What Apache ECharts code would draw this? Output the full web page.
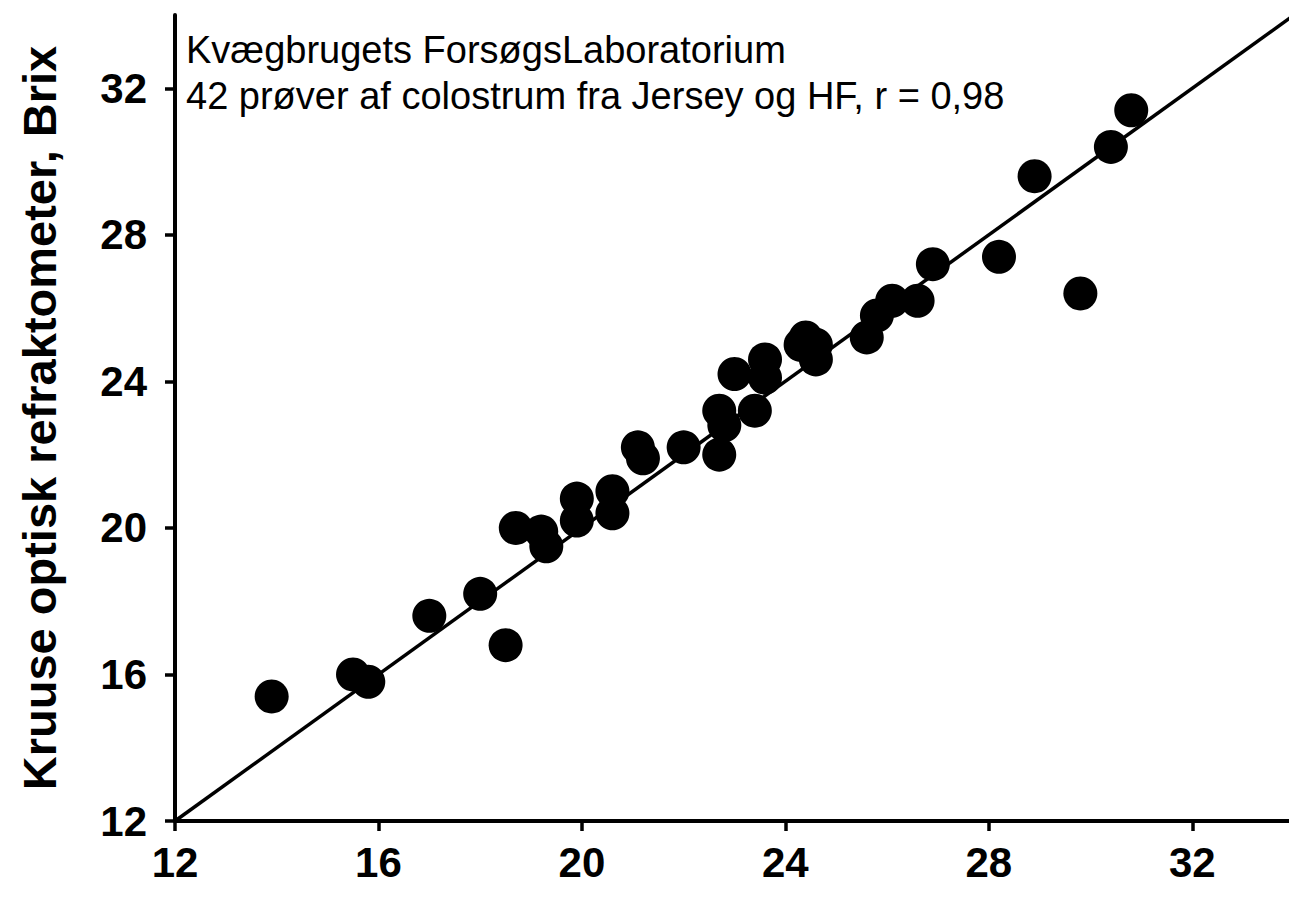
<!DOCTYPE html>
<html>
<head>
<meta charset="utf-8">
<script src="https://cdn.jsdelivr.net/npm/echarts@6/dist/echarts.min.js"></script>
<style>
  html, body { margin: 0; padding: 0; background: #fff; }
  #chart { width: 1289px; height: 901px; }
</style>
</head>
<body>
<div id="chart"></div>
<script>
// reference method (x) vs Kruuse refractometer Brix (y)
const refX = [13.9, 15.5, 15.8, 17.0, 18.0, 18.5, 18.7, 19.2, 19.3, 19.9, 19.9, 20.6, 20.6, 21.1, 21.2, 22.0, 22.7, 22.8, 22.7, 23.4, 23.0, 23.6, 23.6, 24.3, 24.4, 24.6, 24.6, 25.6, 25.8, 26.1, 26.6, 26.9, 28.2, 29.8, 28.9, 30.4, 30.8];
const brixY = [15.4, 16.0, 15.8, 17.6, 18.2, 16.8, 20.0, 19.9, 19.5, 20.8, 20.2, 21.0, 20.4, 22.2, 21.9, 22.2, 23.2, 22.8, 22.0, 23.2, 24.2, 24.6, 24.1, 25.0, 25.2, 25.0, 24.6, 25.2, 25.8, 26.2, 26.2, 27.2, 27.4, 26.4, 29.6, 30.4, 31.4];
const lineX = [12, 34];
const lineY = [12, 34];
const tickValues = [12, 16, 20, 24, 28, 32];
const yName = "Kruuse optisk refraktometer, Brix";
const noteLines = ["Kvægbrugets ForsøgsLaboratorium", "42 prøver af colostrum fra Jersey og HF, r = 0,98"];

const font = "'Liberation Sans', Arial, sans-serif";

const axisCommon = {
  type: "value",
  min: 12,
  max: 34,
  interval: 4,
  splitLine: { show: false },
  axisLine: { show: true, onZero: false, lineStyle: { color: "#000", width: 4 } },
  axisTick: { show: true, length: 10, customValues: tickValues, lineStyle: { color: "#000", width: 3.5 } },
  axisLabel: { customValues: tickValues, color: "#000", fontFamily: font, fontWeight: "bold", fontSize: 42 }
};

const chart = echarts.init(document.getElementById("chart"), null, { renderer: "svg" });
chart.setOption({
  animation: false,
  backgroundColor: "#fff",
  grid: { left: 175, right: -5, top: 15, bottom: 80, containLabel: false, outerBoundsMode: "none" },
  xAxis: Object.assign({}, axisCommon, {
    axisLabel: Object.assign({}, axisCommon.axisLabel, { margin: 20 })
  }),
  yAxis: Object.assign({}, axisCommon, {
    name: yName,
    nameLocation: "middle",
    nameGap: 112,
    nameTextStyle: { color: "#000", fontFamily: font, fontWeight: "bold", fontSize: 47 },
    axisLabel: Object.assign({}, axisCommon.axisLabel, { margin: 28 })
  }),
  graphic: [
    {
      type: "text",
      left: 186,
      top: 27,
      style: {
        text: noteLines.join("\n"),
        font: "38px " + font,
        lineHeight: 46,
        fill: "#000"
      }
    }
  ],
  series: [
    {
      type: "line",
      data: lineX.map((v, i) => [v, lineY[i]]),
      showSymbol: false,
      symbol: "none",
      lineStyle: { color: "#000", width: 3.5 }
    },
    {
      type: "scatter",
      data: refX.map((v, i) => [v, brixY[i]]),
      symbolSize: 34,
      itemStyle: { color: "#000", opacity: 1 }
    }
  ]
});
</script>
</body>
</html>
